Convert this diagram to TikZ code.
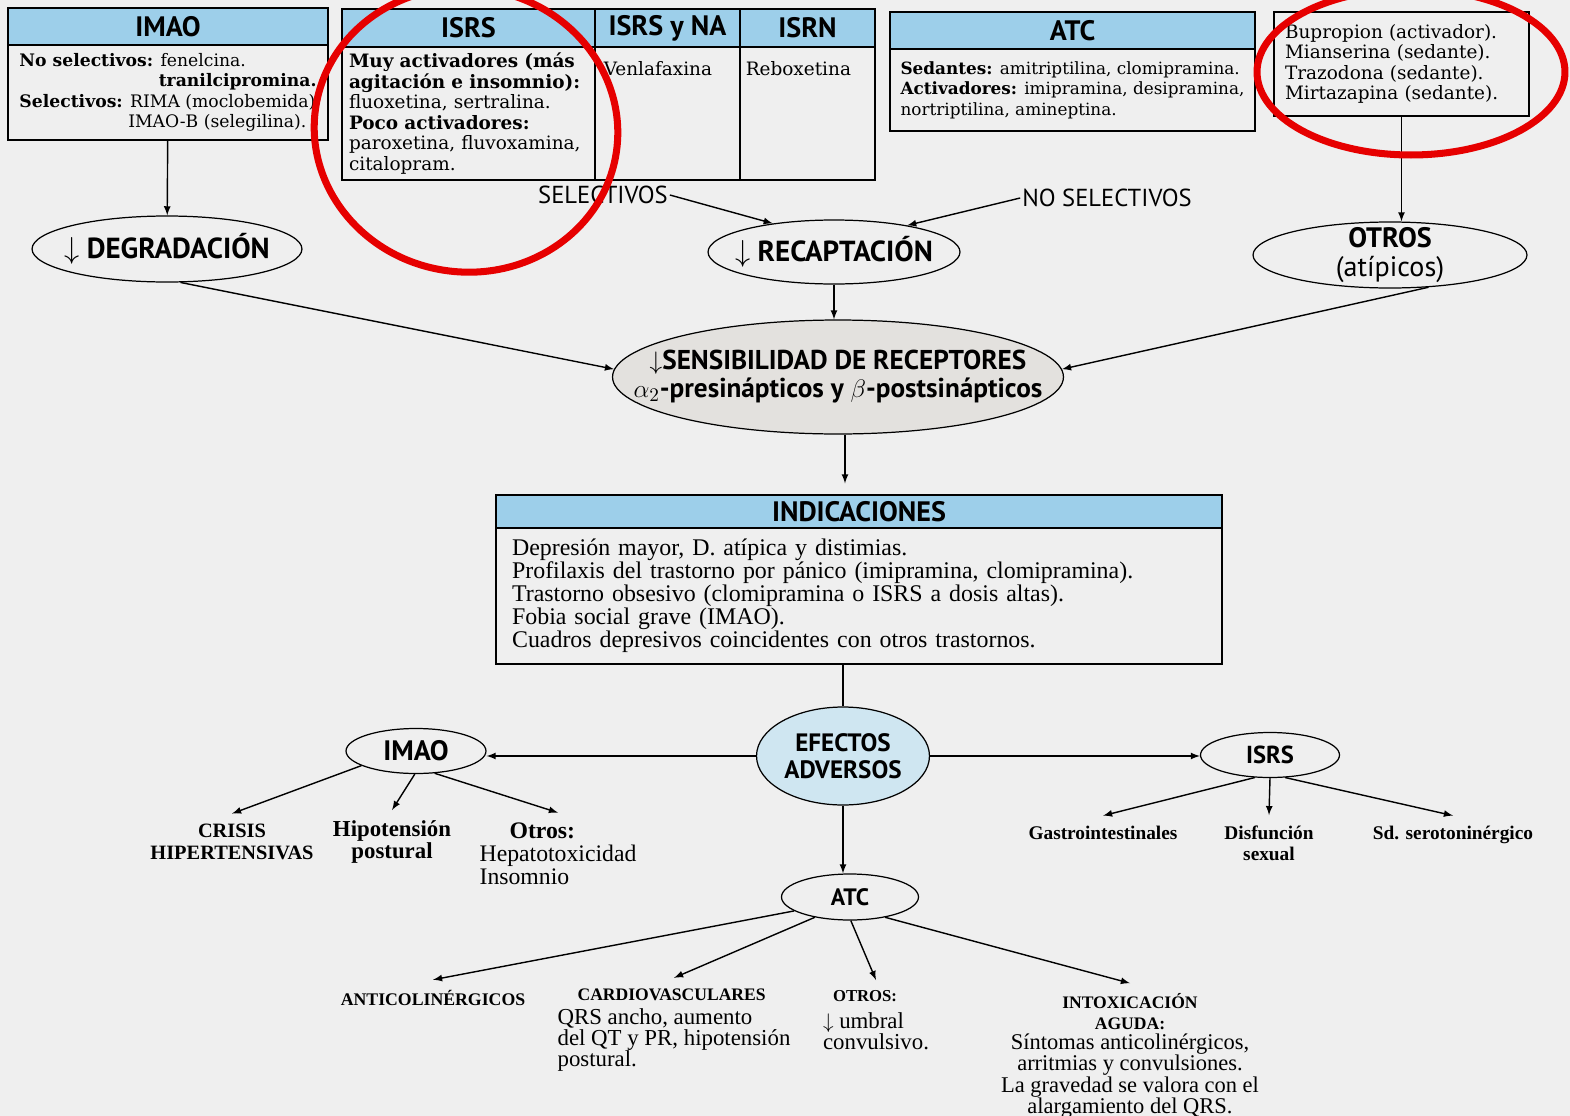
\documentclass[tikz,border=0pt]{standalone}
\usepackage{fontspec}
\setmainfont{Liberation Serif}
\newfontfamily\hdfont{PT Sans}
\newfontfamily\boxfont{DejaVu Serif}
\usepackage{xcolor}
\usepackage{tikz}
\usetikzlibrary{shapes, arrows, positioning, calc}

\definecolor{bgcol}{HTML}{EFEFEF}
\definecolor{hdblue}{HTML}{9DCFEA}
\definecolor{efblue}{HTML}{CFE6F1}
\definecolor{sensgray}{HTML}{E3E1DE}
\definecolor{markred}{HTML}{E60000}

\begin{document}
\begin{tikzpicture}[
        x=0.02cm, y=-0.02cm,
        head/.style={rectangle, draw, fill=hdblue, line width=0.7pt, inner sep=0pt, font=\hdfont\bfseries\fontsize{16}{18}\selectfont},
        cell/.style={rectangle, draw, line width=0.7pt, inner sep=0pt},
        boxtxt/.style={align=left, font=\boxfont\fontsize{10.5}{11.7}\selectfont},
        oval/.style={ellipse, draw, line width=0.7pt, inner sep=0pt},
        ovaltxt/.style={align=center, inner sep=0pt, font=\hdfont\bfseries\fontsize{16.5}{16}\selectfont},
        tag/.style={inner sep=1pt, font=\hdfont\fontsize{14}{16}\selectfont},
        leaf/.style={align=center, inner sep=1pt, outer sep=5pt, font=\fontsize{13}{12}\selectfont},
        arrow/.style={-latex, line width=0.8pt},
        redmark/.style={draw=markred, line width=4pt}
    ]
    \clip (0,0) rectangle (1570,1116);
    \fill[bgcol] (0,0) rectangle (1570,1116);

    % Top boxes
    \node[head, minimum width=6.4cm, minimum height=0.74cm] (imaohead) at (168,26.5) {IMAO};
    \node[cell, boxtxt, font=\boxfont\fontsize{9.8}{11.7}\selectfont, minimum width=6.4cm, minimum height=1.9cm] (imaobody) at (168,92.5)
        {\textbf{No selectivos:} fenelcina.\\
         \phantom{\textbf{No selectivos:}} \textbf{tranilcipromina.}\\
         \textbf{Selectivos:} RIMA (moclobemida)\\
         \phantom{\textbf{Selectivos:}} IMAO-B (selegilina).};

    \node[head, minimum width=5.06cm, minimum height=0.76cm] (isrshead) at (468.5,28) {ISRS};
    \node[head, minimum width=2.9cm, minimum height=0.76cm] (nahead) at (667.5,28) {ISRS y NA};
    \node[head, minimum width=2.7cm, minimum height=0.76cm] (isrnhead) at (807.5,28) {ISRN};
    \node[cell, boxtxt, minimum width=5.06cm, minimum height=2.66cm, text width=4.78cm, inner xsep=0.14cm] (isrsbody) at (468.5,113.5)
        {\textbf{Muy activadores (más}\\
         \textbf{agitación e insomnio):}\\
         fluoxetina, sertralina.\\
         \textbf{Poco activadores:}\\
         paroxetina, fluvoxamina,\\
         citalopram.};
    \node[cell, minimum width=2.9cm, minimum height=2.66cm] (nabody) at (667.5,113.5) {};
    \node[cell, minimum width=2.7cm, minimum height=2.66cm] (isrnbody) at (807.5,113.5) {};
    \node[boxtxt, anchor=north west, inner sep=0pt] (venla) at ([shift={(0.18cm,-0.3cm)}]nabody.north west) {Venlafaxina};
    \node[boxtxt, anchor=north west, inner sep=0pt] (rebox) at ([shift={(0.12cm,-0.3cm)}]isrnbody.north west) {Reboxetina};

    \node[head, minimum width=7.3cm, minimum height=0.74cm] (atchead) at (1072.5,30.5) {ATC};
    \node[cell, boxtxt, font=\boxfont\fontsize{9.6}{11.7}\selectfont, minimum width=7.3cm, minimum height=1.64cm] (atcbody) at (1072.5,90)
        {\textbf{Sedantes:} amitriptilina, clomipramina.\\
         \textbf{Activadores:} imipramina, desipramina,\\
         nortriptilina, amineptina.};

    \node[cell, boxtxt, minimum width=5.1cm, minimum height=2.08cm, text width=4.66cm, inner xsep=0.22cm] (otrosbox) at (1401.5,64)
        {Bupropion (activador).\\
         Mianserina (sedante).\\
         Trazodona (sedante).\\
         Mirtazapina (sedante).};

    % Mechanisms
    \node[oval, minimum width=5.4cm, minimum height=1.32cm, label={[ovaltxt]center:{$\downarrow$\ DEGRADACIÓN}}] (degr) at (167,249) {};
    \node[oval, minimum width=5.04cm, minimum height=1.28cm, label={[ovaltxt]center:{$\downarrow$\ RECAPTACIÓN}}] (recap) at (834,252) {};
    \node[oval, minimum width=5.48cm, minimum height=1.32cm, label={[ovaltxt, font=\hdfont\fontsize{16}{16}\selectfont]center:{\textbf{OTROS}\\(atípicos)}}] (otros) at (1390,255) {};
    \node[tag] (sel) at (603,195) {SELECTIVOS};
    \node[tag] (nosel) at (1107,198) {NO SELECTIVOS};
    \node[oval, fill=sensgray, minimum width=9.02cm, minimum height=2.28cm,
          label={[ovaltxt, font=\hdfont\bfseries\fontsize{15.5}{16}\selectfont]center:{$\downarrow$SENSIBILIDAD DE RECEPTORES\\ $\alpha_2$-presinápticos y $\beta$-postsinápticos}}] (sensib) at (838,377) {};

    % Indicaciones
    \node[head, minimum width=14.52cm, minimum height=0.66cm] (indhead) at (859,511.5) {INDICACIONES};
    \node[cell, align=left, font=\fontsize{13.6}{13.1}\selectfont, minimum width=14.52cm, minimum height=2.72cm, text width=13.88cm, inner xsep=0.32cm] (indbody) at (859,596)
        {Depresión mayor, D. atípica y distimias.\\
         Profilaxis del trastorno por pánico (imipramina, clomipramina).\\
         Trastorno obsesivo (clomipramina o ISRS a dosis altas).\\
         Fobia social grave (IMAO).\\
         Cuadros depresivos coincidentes con otros trastornos.};

    % Efectos adversos
    \node[oval, fill=efblue, minimum width=3.46cm, minimum height=1.96cm, label={[ovaltxt, font=\hdfont\bfseries\fontsize{14.3}{15.4}\selectfont]center:{EFECTOS\\ADVERSOS}}] (efectos) at (843,756) {};
    \node[oval, minimum width=2.8cm, minimum height=0.9cm, label={[ovaltxt, font=\hdfont\bfseries\fontsize{16}{16}\selectfont]center:IMAO}] (imaoae) at (416,751) {};
    \node[oval, minimum width=2.78cm, minimum height=0.9cm, label={[ovaltxt, font=\hdfont\bfseries\fontsize{14}{16}\selectfont]center:ISRS}] (isrsae) at (1270,755) {};
    \node[oval, minimum width=2.74cm, minimum height=0.92cm, label={[ovaltxt, font=\hdfont\bfseries\fontsize{13.5}{16}\selectfont]center:ATC}] (atcae) at (850,897) {};

    \node[leaf, font=\bfseries\fontsize{11.6}{12.5}\selectfont] (crisis) at (232,842) {CRISIS\\HIPERTENSIVAS};
    \node[leaf, font=\bfseries\fontsize{13}{12.5}\selectfont] (hipot) at (392,842) {Hipotensión\\postural};
    \node[leaf, align=left, font=\fontsize{13.5}{13}\selectfont] (otrosim) at (558,854) {\hspace*{0.6cm}\textbf{Otros:}\\Hepatotoxicidad\\Insomnio};

    \node[leaf, font=\bfseries\fontsize{11}{11.8}\selectfont] (gastro) at (1103,833) {Gastrointestinales};
    \node[leaf, font=\bfseries\fontsize{11}{11.8}\selectfont] (disf) at (1269,843) {Disfunción\\sexual};
    \node[leaf, font=\bfseries\fontsize{11}{11.8}\selectfont] (sero) at (1453,835) {Sd. serotoninérgico};

    \node[leaf, font=\bfseries\fontsize{10.1}{11.8}\selectfont] (anticol) at (433,998) {ANTICOLINÉRGICOS};
    \node[leaf, align=left] (cardio) at (674,1030)
        {\hspace*{0.4cm}{\bfseries\fontsize{10}{12}\selectfont CARDIOVASCULARES}\\[2pt]
         QRS ancho, aumento\\
         del QT y PR, hipotensión\\
         postural.};
    \node[leaf, align=left] (otrosatc) at (876,1020)
        {\hspace*{0.2cm}{\bfseries\fontsize{9.5}{12}\selectfont OTROS:}\\[3pt]
         $\downarrow$ umbral\\
         convulsivo.};
    \node[leaf, font=\fontsize{12.8}{11.7}\selectfont] (intox) at (1130,1056)
        {{\bfseries\fontsize{10}{11.7}\selectfont INTOXICACIÓN}\\
         {\bfseries\fontsize{10}{11.7}\selectfont AGUDA:}\\
         Síntomas anticolinérgicos,\\
         arritmias y convulsiones.\\[1pt]
         La gravedad se valora con el\\
         alargamiento del QRS.};

    % Arrows - top
    \draw[arrow] (imaobody) -- (degr);
    \draw[arrow] (otrosbox.south) -- (otrosbox.south |- otros.north);
    \draw[arrow] (sel.east) -- (recap.155);
    \draw[arrow] (nosel.west) -- (recap.20);
    \draw[arrow] (degr.-68) -- (sensib.178);
    \draw[arrow] (recap) -- (recap |- sensib.north);
    \draw[arrow] (otros.-40) -- (sensib.2);
    \draw[arrow, shorten >=0.22cm] ([xshift=0.14cm]sensib.south) -- ([xshift=0.14cm]sensib.south |- indhead.north);

    % Arrows - efectos adversos
    \draw[line width=0.8pt] (efectos.north |- indbody.south) -- (efectos.north);
    \draw[arrow] (efectos.west) -- (efectos.west -| imaoae.east);
    \draw[arrow] (efectos.east) -- (efectos.east -| isrsae.west);
    \draw[arrow] (efectos.south) -- (efectos.south |- atcae.north);

    \draw[arrow] (imaoae.-165) -- (crisis.north);
    \draw[arrow] (imaoae.-93) -- (hipot.north);
    \draw[arrow] (imaoae.-50) -- (otrosim.north);
    \draw[arrow] (isrsae.-124) -- (gastro.north);
    \draw[arrow] (isrsae.-90) -- (disf.north);
    \draw[arrow] (isrsae.-56) -- (sero.north);
    \draw[arrow] (atcae.-166) -- (anticol.north);
    \draw[arrow] (atcae.-150) -- (cardio.north);
    \draw[arrow] (atcae.-88) -- (otrosatc.north);
    \draw[arrow] (atcae.-30) -- (intox.north);

    % Red marks
    \draw[redmark, rotate around={-8:(466,130)}] (466,130) ellipse [x radius=3.04cm, y radius=2.84cm];
    \draw[redmark] (1411,72) ellipse [x radius=3.08cm, y radius=1.66cm];

\end{tikzpicture}
\end{document}
